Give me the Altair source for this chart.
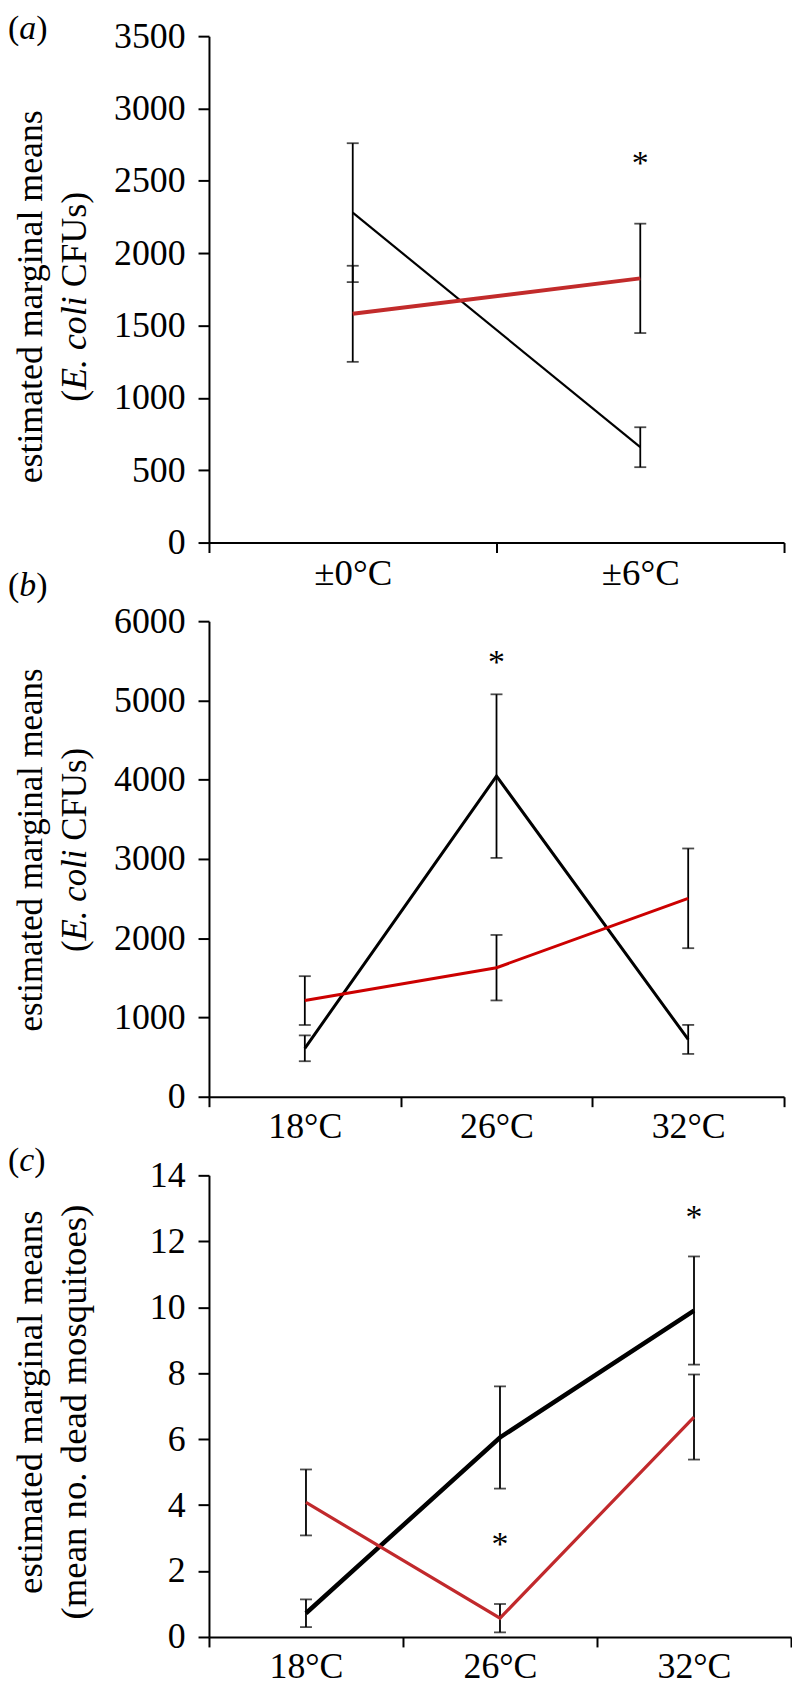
import json
import altair as alt
import pandas as pd

FONT = "Liberation Serif"

# ---------------- data ----------------
# panel (a)
cats_a = ["±0°C", "±6°C"]
a_black = [2280, 659]
a_black_se = [480, 138]
a_red = [1581, 1826]
a_red_se = [332, 378]
a_star_idx = [1]
a_star_y = [2657]

# panel (b)
cats_b = ["18°C", "26°C", "32°C"]
b_black = [611, 4045, 723]
b_black_se = [163, 1032, 183]
b_red = [1213, 1628, 2503]
b_red_se = [308, 413, 629]
b_star_idx = [1]
b_star_y = [5550]

# panel (c)
cats_c = ["18°C", "26°C", "32°C"]
c_black = [0.72, 6.05, 9.90]
c_black_se = [0.42, 1.55, 1.64]
c_red = [4.08, 0.57, 6.67]
c_red_se = [1.00, 0.43, 1.29]
c_star_idx = [1, 2]
c_star_y = [2.96, 12.90]


def one_row():
    return alt.Data(values=[{"k": 0}])


def text_at(x, y, txt, size, angle=0, align="left", baseline="middle", italic=False):
    kw = dict(font=FONT, fontSize=size, color="black", align=align, baseline=baseline)
    if angle:
        kw["angle"] = angle
    if italic:
        kw["fontStyle"] = "italic"
    return alt.Chart(one_row()).mark_text(**kw).encode(
        x=alt.value(x), y=alt.value(y), text=alt.value(txt)
    )


def panel(cats, blk, blk_se, red, red_se, star_idx, star_y, ymax, ystep,
          width, height, red_color, blk_w, red_w, letter, letter_y,
          title_lines, xlab_size, title_size):
    n = len(cats)
    rows = []
    for i in range(n):
        rows.append({"x": i + 0.5, "s": "black", "m": blk[i],
                     "lo": blk[i] - blk_se[i], "hi": blk[i] + blk_se[i]})
    for i in range(n):
        rows.append({"x": i + 0.5, "s": "red", "m": red[i],
                     "lo": red[i] - red_se[i], "hi": red[i] + red_se[i]})
    df = pd.DataFrame(rows)
    sdf = pd.DataFrame({"x": [k + 0.5 for k in star_idx], "y": star_y})

    # ticks at category boundaries; each label drawn half a band to the left
    xaxis = alt.Axis(
        values=list(range(n + 1)),
        labelExpr=json.dumps([""] + cats) + "[datum.value]",
        labelOffset=-width / n / 2,
        labelFlush=False, labelOverlap=False,
        labelFont=FONT, labelFontSize=xlab_size, labelColor="black",
        labelPadding=3, tickSize=10, tickWidth=2, tickColor="black",
        domainColor="black", domainWidth=2, grid=False, title=None,
    )
    yaxis = alt.Axis(
        values=list(range(0, ymax + 1, ystep)), format="d",
        labelFont=FONT, labelFontSize=36, labelColor="black",
        labelPadding=13, tickSize=11, tickWidth=2, tickColor="black",
        domainColor="black", domainWidth=2, grid=False, title=None,
    )
    xs = alt.Scale(domain=[0, n], nice=False, zero=False)
    ys = alt.Scale(domain=[0, ymax], nice=False)
    X = alt.X("x:Q", scale=xs, axis=xaxis)

    base = alt.Chart(df)
    err = base.mark_rule(color="black", strokeWidth=1.8).encode(
        x=X, y=alt.Y("lo:Q", scale=ys, axis=yaxis), y2="hi:Q")
    cap_lo = base.mark_tick(orient="horizontal", size=12, thickness=1.8,
                            color="black").encode(
        x=X, y=alt.Y("lo:Q", scale=ys, axis=yaxis))
    cap_hi = base.mark_tick(orient="horizontal", size=12, thickness=1.8,
                            color="black").encode(
        x=X, y=alt.Y("hi:Q", scale=ys, axis=yaxis))
    line_b = alt.Chart(df[df.s == "black"]).mark_line(
        color="black", strokeWidth=blk_w).encode(
        x=X, y=alt.Y("m:Q", scale=ys, axis=yaxis))
    line_r = alt.Chart(df[df.s == "red"]).mark_line(
        color=red_color, strokeWidth=red_w).encode(
        x=X, y=alt.Y("m:Q", scale=ys, axis=yaxis))
    stars = alt.Chart(sdf).mark_text(
        text="*", font=FONT, fontSize=34, color="black",
        baseline="alphabetic", dy=16).encode(
        x=X, y=alt.Y("y:Q", scale=ys, axis=yaxis))

    layers = [err, cap_lo, cap_hi, line_b, line_r, stars]

    # panel letter "(x)" with italic letter
    lx = -202
    layers.append(text_at(lx, letter_y, "(", 34))
    layers.append(text_at(lx + 11.3, letter_y, letter, 34, italic=True))
    lw = 15.1 if letter == "c" else 17.0
    layers.append(text_at(lx + 11.3 + lw, letter_y, ")", 34))

    # y title (rotated)
    for piece in title_lines:
        x, y, txt, italic, align = piece
        layers.append(text_at(x, y, txt, title_size, angle=270,
                              align=align, italic=italic))

    return alt.layer(*layers).properties(width=width, height=height)


def ecoli_title(yc, size, x1=-179, x2=-135):
    s = size / 34.0
    return [
        (x1, yc, "estimated marginal means", False, "center"),
        (x2, yc + 99.6 * s, "(", False, "left"),
        (x2, yc + 88.3 * s, "E. coli", True, "left"),
        (x2, yc - 9.0 * s, "CFUs)", False, "left"),
    ]


pa = panel(cats_a, a_black, a_black_se, a_red, a_red_se, a_star_idx, a_star_y,
           3500, 500, 578, 509, "#c22b2b", 2.2, 4.0, "a", -7,
           ecoli_title(262, 36), 37, 36)
pb = panel(cats_b, b_black, b_black_se, b_red, b_red_se, b_star_idx, b_star_y,
           6000, 1000, 578, 478, "#cc0000", 3.0, 3.0, "b", -35,
           ecoli_title(230, 35), 36, 35)
pc = panel(cats_c, c_black, c_black_se, c_red, c_red_se, c_star_idx, c_star_y,
           14, 2, 585, 464, "#c1292c", 4.5, 3.2, "c", -14,
           [(-179, 228, "estimated marginal means", False, "center"),
            (-135, 238, "(mean no. dead mosquitoes)", False, "center")],
           36, 37)

chart = alt.vconcat(pa, pb, pc, spacing=79, bounds="flush").properties(
    padding=0
).configure_view(stroke=None)

chart.save("out.html", embed_options={"renderer": "svg", "actions": False})
